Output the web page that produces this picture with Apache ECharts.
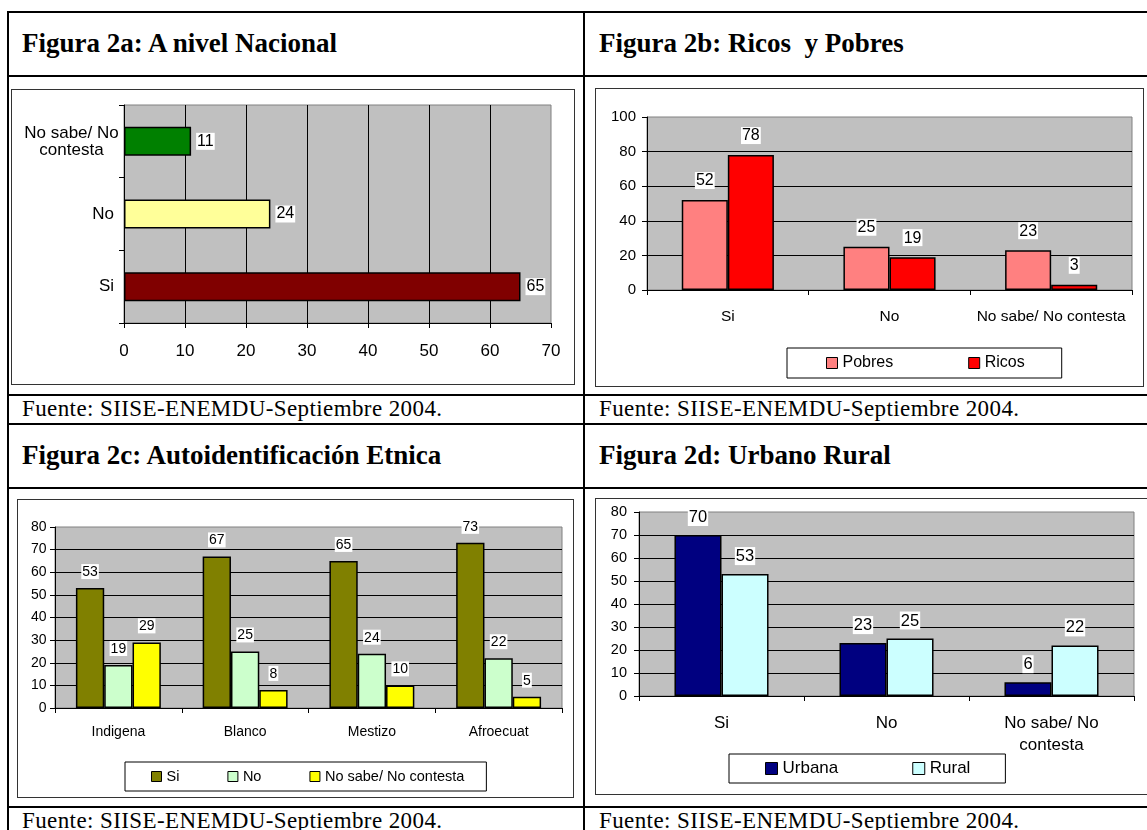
<!DOCTYPE html>
<html>
<head>
<meta charset="utf-8">
<script src="https://cdn.jsdelivr.net/npm/echarts@6/dist/echarts.min.js"></script>
<style>
  body { margin: 0; background: #fff; width: 1147px; height: 830px; overflow: hidden; position: relative;
         font-family: 'Liberation Serif', 'Times New Roman', serif; color: #000; }
  .hl { position: absolute; left: 7px; width: 1160px; height: 2px; background: #000; }
  .vl { position: absolute; top: 11px; width: 2px; height: 840px; background: #000; }
  .title { position: absolute; font-weight: bold; font-size: 27px; line-height: 27px; white-space: pre; }
  .fuente { position: absolute; font-size: 23px; line-height: 23px; letter-spacing: 0.4px; white-space: nowrap; }
  .box { position: absolute; border: 1px solid #333; box-sizing: border-box; background: #fff; }
  .chart { position: absolute; left: 0; top: 0; right: 0; bottom: 0; }
</style>
</head>
<body>
<!-- marco de la tabla -->
<div class="hl" style="top:11px"></div>
<div class="hl" style="top:75px"></div>
<div class="hl" style="top:394px"></div>
<div class="hl" style="top:423px"></div>
<div class="hl" style="top:487px"></div>
<div class="hl" style="top:806px"></div>
<div class="vl" style="left:7px"></div>
<div class="vl" style="left:583px"></div>

<div class="title" style="left:22px; top:30px">Figura 2a: A nivel Nacional</div>
<div class="title" style="left:599px; top:30px">Figura 2b: Ricos  y Pobres</div>
<div class="title" style="left:22px; top:442px">Figura 2c: Autoidentificación Etnica</div>
<div class="title" style="left:599px; top:442px">Figura 2d: Urbano Rural</div>

<div class="fuente" style="left:22px; top:397px">Fuente: SIISE-ENEMDU-Septiembre 2004.</div>
<div class="fuente" style="left:599px; top:397px">Fuente: SIISE-ENEMDU-Septiembre 2004.</div>
<div class="fuente" style="left:22px; top:809px">Fuente: SIISE-ENEMDU-Septiembre 2004.</div>
<div class="fuente" style="left:599px; top:809px">Fuente: SIISE-ENEMDU-Septiembre 2004.</div>

<div class="box" style="left:11px; top:89px; width:564px; height:296px"><div id="c2a" class="chart"></div></div>
<div class="box" style="left:595px; top:88px; width:549px; height:299px"><div id="c2b" class="chart"></div></div>
<div class="box" style="left:17px; top:499px; width:557px; height:299px"><div id="c2c" class="chart"></div></div>
<div class="box" style="left:595px; top:498px; width:560px; height:297px"><div id="c2d" class="chart"></div></div>

<script>
// datos
const respuestas = ['Si', 'No', 'No sabe/ No contesta']
const nacional = [65, 24, 11]

const nivelNombres = ['Pobres', 'Ricos']
const pobres = [52, 25, 23]
const ricos = [78, 19, 3]

const etnias = ['Indigena', 'Blanco', 'Mestizo', 'Afroecuat']
const etniaSi = [53, 67, 65, 73]
const etniaNo = [19, 25, 24, 22]
const etniaNs = [29, 8, 10, 5]

const zonaNombres = ['Urbana', 'Rural']
const urbana = [70, 23, 6]
const rural = [53, 25, 22]

const FONT = "'Liberation Sans', Arial, sans-serif"
const coloresNacional = ['#800000', '#ffff99', '#008000']

// partir la etiqueta larga en dos lineas
const dosLineas = (v) => v.replace('/ No ', '/ No\n')

const gridBase = (pos) => Object.assign({
  show: true,
  backgroundColor: '#c0c0c0',
  borderColor: '#808080',
  borderWidth: 1,
  outerBoundsMode: 'none'
}, pos)

const valueAxis = (max, interval, fontSize, margin) => ({
  type: 'value',
  min: 0,
  max: max,
  interval: interval,
  axisLine: { show: true, lineStyle: { color: '#000', width: 1 } },
  axisTick: { show: true, length: 5, lineStyle: { color: '#000' } },
  axisLabel: { color: '#000', fontSize: fontSize, fontFamily: FONT, margin: margin },
  splitLine: { show: true, showMaxLine: false, lineStyle: { color: '#000', width: 1 } }
})

const categoryAxis = (data, fontSize, margin, extra) => Object.assign({
  type: 'category',
  data: data,
  axisLine: { show: true, lineStyle: { color: '#000', width: 1 } },
  axisTick: { show: true, length: 5, lineStyle: { color: '#000' } },
  axisLabel: { color: '#000', fontSize: fontSize, fontFamily: FONT, margin: margin, interval: 0 },
  splitLine: { show: false }
}, extra || {})

const barLabel = (fontSize, distance, position) => ({
  show: true,
  position: position || 'top',
  distance: distance,
  color: '#000',
  fontSize: fontSize,
  fontFamily: FONT,
  backgroundColor: '#fff',
  padding: [1, 1, 0, 1]
})

const barSerie = (name, data, color, gap, label) => ({
  name: name,
  type: 'bar',
  data: data,
  barGap: '0%',
  barCategoryGap: gap,
  itemStyle: { color: color, borderColor: '#000', borderWidth: 1.5 },
  label: label
})

const legendBase = (pos) => Object.assign({
  show: true,
  orient: 'horizontal',
  icon: 'rect',
  borderColor: '#000',
  borderWidth: 1,
  itemStyle: { borderColor: '#000', borderWidth: 1 },
  textStyle: { color: '#000', fontFamily: FONT }
}, pos)

// Figura 2a
const chart2a = echarts.init(document.getElementById('c2a'))
chart2a.setOption({
  animation: false,
  grid: gridBase({ left: 112, right: 23, top: 15, bottom: 61 }),
  xAxis: valueAxis(70, 10, 17, 20),
  yAxis: categoryAxis(respuestas.map((r) => r.indexOf('/') > 0
    ? { value: r, textStyle: { align: 'center', padding: [0, 85, 0, 0] } }
    : r), 17, 10, {}),
  series: [{
    type: 'bar',
    data: nacional.map((v, i) => ({ value: v, itemStyle: { color: coloresNacional[i] } })),
    barCategoryGap: '60%',
    itemStyle: { borderColor: '#000', borderWidth: 1.5 },
    label: barLabel(16, 5, 'right')
  }]
})
chart2a.setOption({ yAxis: { axisLabel: { formatter: dosLineas } } })

// Figura 2b
const chart2b = echarts.init(document.getElementById('c2b'))
chart2b.setOption({
  animation: false,
  grid: gridBase({ left: 51, right: 11, top: 28, bottom: 96 }),
  xAxis: categoryAxis(respuestas, 15.5, 19),
  yAxis: valueAxis(100, 20, 15, 11),
  legend: legendBase({
    data: nivelNombres, left: 191, top: 259, itemWidth: 11, itemHeight: 11, itemGap: 75,
    padding: [7, 37, 7, 39], textStyle: { color: '#000', fontFamily: FONT, fontSize: 16 }
  }),
  series: [
    barSerie(nivelNombres[0], pobres, '#ff8080', '43%', barLabel(16, 11)),
    barSerie(nivelNombres[1], ricos, '#ff0000', '43%', barLabel(16, 11))
  ]
})

// Figura 2c
const chart2c = echarts.init(document.getElementById('c2c'))
chart2c.setOption({
  animation: false,
  grid: gridBase({ left: 37, right: 11, top: 27, bottom: 89 }),
  xAxis: categoryAxis(etnias, 14, 17.5),
  yAxis: valueAxis(80, 10, 14, 8.5),
  legend: legendBase({
    data: respuestas, left: 107, top: 262, itemWidth: 10, itemHeight: 10, itemGap: 48,
    padding: [7, 22, 7, 26], textStyle: { color: '#000', fontFamily: FONT, fontSize: 14.5 }
  }),
  series: [
    barSerie(respuestas[0], etniaSi, '#808000', '33%', barLabel(14, 9)),
    barSerie(respuestas[1], etniaNo, '#ccffcc', '33%', barLabel(14, 9)),
    barSerie(respuestas[2], etniaNs, '#ffff00', '33%', barLabel(14, 9))
  ]
})

// Figura 2d
const chart2d = echarts.init(document.getElementById('c2d'))
chart2d.setOption({
  animation: false,
  grid: gridBase({ left: 43, right: 20, top: 13, bottom: 98 }),
  xAxis: categoryAxis(respuestas, 17, 16, {}),
  yAxis: valueAxis(80, 10, 14.5, 12),
  legend: legendBase({
    data: zonaNombres, left: 133, top: 255, itemWidth: 12, itemHeight: 12, itemGap: 74,
    padding: [6, 35, 6, 36], textStyle: { color: '#000', fontFamily: FONT, fontSize: 17 }
  }),
  series: [
    barSerie(zonaNombres[0], urbana, '#000080', '43%', barLabel(16.5, 9)),
    barSerie(zonaNombres[1], rural, '#ccffff', '43%', barLabel(16.5, 9))
  ]
})
chart2d.setOption({ xAxis: { axisLabel: { formatter: dosLineas, lineHeight: 22 } } })
</script>
</body>
</html>
